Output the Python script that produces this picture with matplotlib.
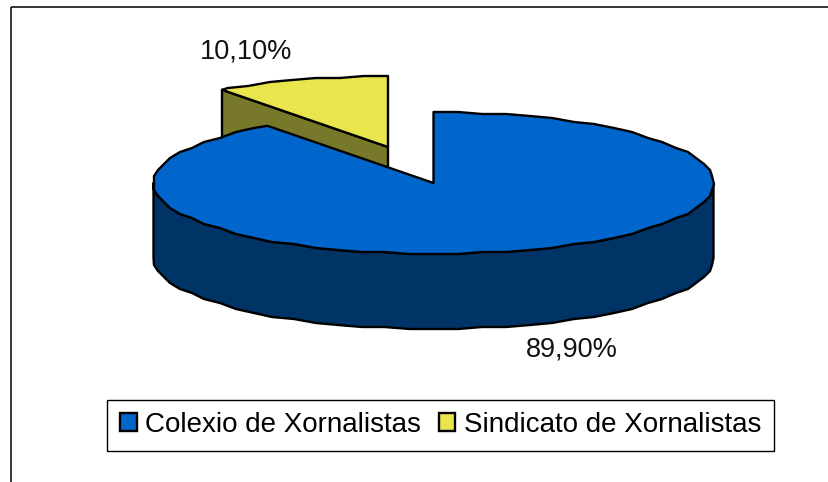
import numpy as np
import matplotlib
matplotlib.use("Agg")
import matplotlib.pyplot as plt
from matplotlib.patches import Polygon, Rectangle, Patch

plt.rcParams['font.family'] = ['Liberation Sans', 'DejaVu Sans']

# data
categories = ['Colexio de Xornalistas', 'Sindicato de Xornalistas']
shares = [89.90, 10.10]
top_colors = ['#0066CC', '#E8E64C']
side_colors = ['#003366', '#78782A']

# the 3d pie geometry, in pixels of the picture
rx = 280
ry = 71
depth = 75
blue_center = (433.5, 183)
yellow_center = (388, 147)
edge = 'black'
lw = 1.7


def rim(center, start, stop, step=5.0):
    # angles run clockwise from 12 o'clock, as in the spreadsheet pie
    # same angle grid for every rim so top and wall edges sit on each other
    mid = np.arange(np.ceil(start / step + 0.01) * step, stop, step)
    a = np.radians(np.concatenate([[start], mid, [stop]]))
    pts = np.column_stack([center[0] + rx * np.sin(a), center[1] - ry * np.cos(a)])
    # the original outline is a bit stepped
    pts[1:-1] = np.round(pts[1:-1] / 2.0) * 2.0
    return pts


def label_text(v):
    return f"{v:.2f}".replace('.', ',') + '%'


fig = plt.figure(figsize=(8.29, 4.82), dpi=100)
ax = fig.add_axes([0, 0, 1, 1])
ax.set_xlim(0, 829)
ax.set_ylim(482, 0)
ax.axis('off')

# chart frame, cut off by the picture on the right and bottom
ax.add_patch(Rectangle((11, 7), 1000, 1000, fill=False, ec=edge, lw=1.1))

sweep = shares[0] / sum(shares) * 360

# yellow slice pulled out: cut face first, blue goes over it
arc = rim(yellow_center, sweep, 360)
cut = np.array([arc[0], yellow_center, (yellow_center[0], yellow_center[1] + depth),
                (arc[0][0], arc[0][1] + depth)])
ax.add_patch(Polygon(cut, closed=True, fc=side_colors[1], ec=edge, lw=lw, joinstyle='round'))
ax.add_patch(Polygon(np.vstack([arc, yellow_center]), closed=True, fc=top_colors[1], ec=edge,
                     lw=lw, joinstyle='round'))

# blue side wall, then top
front = rim(blue_center, 90, 270)
wall = np.vstack([front, (front + [0, depth])[::-1]])
ax.add_patch(Polygon(wall, closed=True, fc=side_colors[0], ec=edge, lw=lw, joinstyle='round'))
top = rim(blue_center, 0, sweep)
ax.add_patch(Polygon(np.vstack([top, blue_center]), closed=True, fc=top_colors[0], ec=edge,
                     lw=lw, joinstyle='round'))

ax.text(246.5, 52, label_text(shares[1]), fontsize=19.5, color='#111111', ha='center', va='center')
ax.text(571.5, 349, label_text(shares[0]), fontsize=19.5, color='#111111', ha='center', va='center')

handles = [Patch(fc=c, ec=edge, lw=lw) for c in top_colors]
leg = ax.legend(handles, categories, loc='center', bbox_to_anchor=(440.5, 425),
                bbox_transform=ax.transData, ncol=2, fontsize=20, frameon=True,
                fancybox=False, framealpha=1, edgecolor=edge, handlelength=0.6,
                handleheight=0.62, handletextpad=0.3, columnspacing=0.65, borderpad=0.45,
                labelspacing=0)
leg.get_frame().set_linewidth(1.0)

fig.savefig('out.png', dpi=100)
